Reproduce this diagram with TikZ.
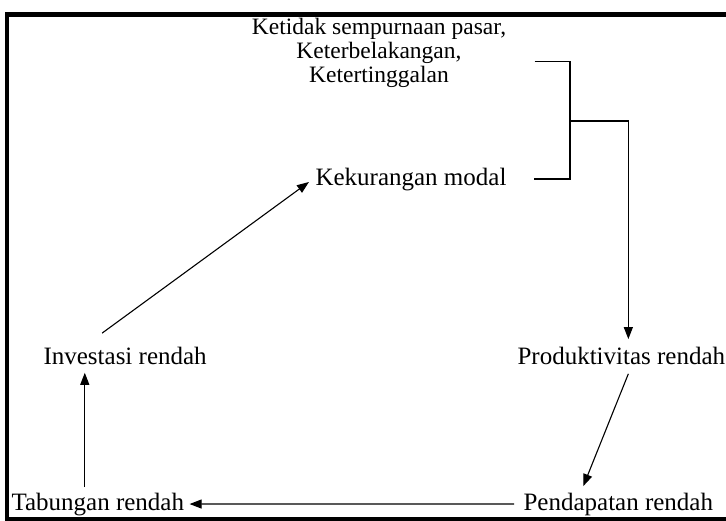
\documentclass[tikz,border=0pt]{standalone}
\usepackage{fontspec}
\setmainfont{Liberation Serif}
\usetikzlibrary{arrows.meta, positioning}

\tikzset{
	lbl/.style={font=\fontsize{25}{26}\selectfont, inner sep=2pt, anchor=base west},
	head/.style={font=\fontsize{23.5}{24}\selectfont, inner sep=0pt, align=center, anchor=north}
}

\begin{document}
\begin{tikzpicture}[x=1pt, y=-1pt, ->, >={Triangle[length=12pt,width=9pt]}, line width=1.1pt]

\useasboundingbox (0,0) rectangle (726,520);
\clip (0,0) rectangle (726,520);
\draw[-, line width=4.5pt] (7,14.5) rectangle (740,519);

\node[head]		(top)		at (379,18)		{Ketidak sempurnaan pasar,\\ Keterbelakangan,\\ Ketertinggalan};
\node[lbl]		(kek)		at (313,185)		{Kekurangan modal};
\node[lbl]		(inv)		at (41,364)		{Investasi rendah};
\node[lbl]		(prod)		at (515,364)		{Produktivitas rendah};
\node[lbl]		(pend)		at (521,510)		{Pendapatan rendah};
\node[lbl]		(tab)		at (9,510)		{Tabungan rendah};

\coordinate		(join)		at (570,121);

% bracket
\draw[-]	([shift={(28pt,-8pt)}]top.east) -| (join);
\draw[-]	([xshift=25pt]kek.east) -| (join);
\draw[shorten >=5pt]	(join) -| ([xshift=7pt]prod.north);

% cycle
\draw[shorten >=3pt, shorten <=7pt]	(pend.west) -- (tab.east);
\draw[shorten >=6pt, shorten <=3pt]	([xshift=-13pt]tab.north) -- ([xshift=-13pt]tab.north |- inv.south);
\draw[shorten >=5pt]	([shift={(-23pt,11pt)}]inv.north) -- (kek.west);
\draw	([shift={(7pt,-7pt)}]prod.south) -- ([shift={(-35pt,4pt)}]pend.north);

\end{tikzpicture}
\end{document}
